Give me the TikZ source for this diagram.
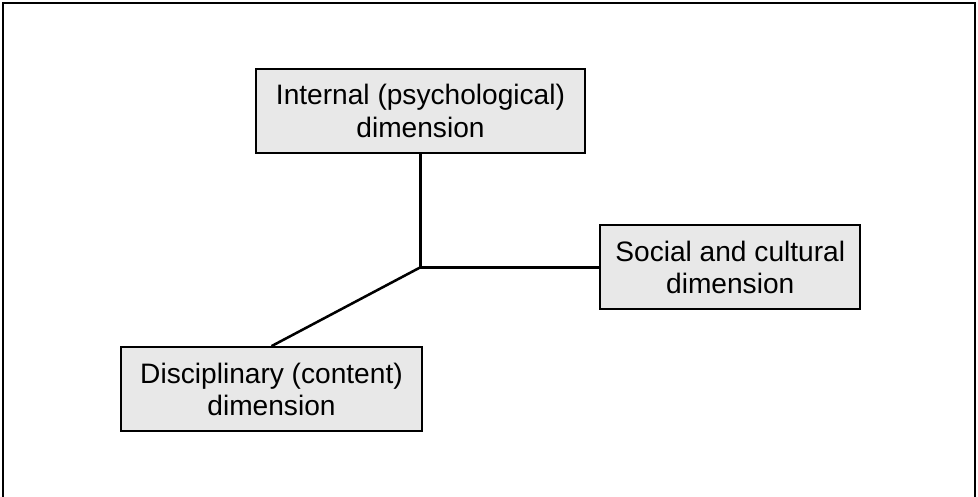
\documentclass[tikz,border=0pt]{standalone}
\usepackage{fontspec}
\setmainfont{Liberation Sans}
\usetikzlibrary{positioning}
\definecolor{boxgray}{RGB}{232,232,232}
\tikzset{
  dimbox/.style={draw=black,fill=boxgray,line width=1.6pt,
                 minimum height=2.1cm,align=center,inner sep=0pt,
                 font=\fontsize{20}{23}\selectfont},
  link/.style={line width=1.8pt,color=black},
  frame/.style={line width=1.3pt,color=black},
}

\begin{document}
\begin{tikzpicture}
  % page size as in the reference
  \useasboundingbox (0,0) rectangle (24.45,-12.4);
  % outer frame, its bottom edge runs off the page
  \draw[frame] (0.075,-12.7) -- (0.075,-0.075) -- (24.375,-0.075) -- (24.375,-12.7);

  % the three dimensions
  \node[dimbox,minimum width=8.225cm] (internal) at (10.5125,-2.775)
       {Internal (psychological)\\dimension};
  \node[dimbox,minimum width=6.5cm,below right=1.75cm and 0.325cm of internal] (social)
       {Social and cultural\\dimension};
  \node[dimbox,minimum width=7.525cm,below=4.8cm of internal,xshift=-3.725cm] (disciplinary)
       {Disciplinary (content)\\dimension};

  % connectors meet in one point
  \coordinate (hub) at (internal.south |- social.west);
  \draw[link] (internal.south) -- (hub) -- (social.west);
  \draw[link] (hub) -- (disciplinary.north);
\end{tikzpicture}
\end{document}
